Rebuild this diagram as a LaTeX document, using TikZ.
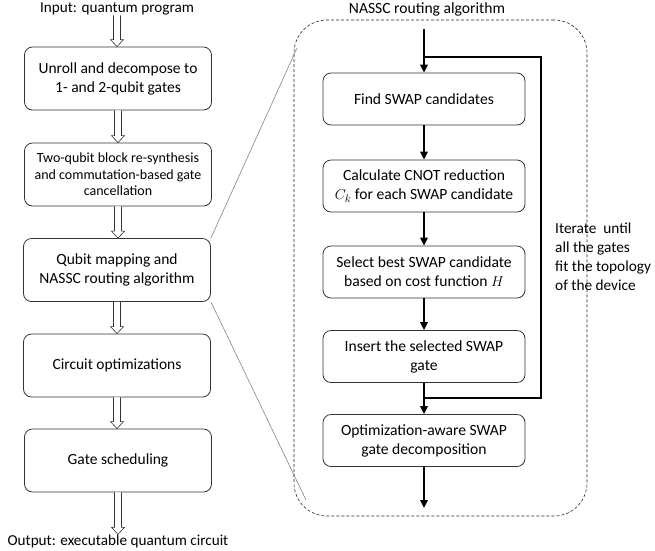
\documentclass[tikz,border=0pt]{standalone}
\usepackage{fontspec}
\setmainfont{Carlito}
\usetikzlibrary{arrows.meta,calc}
\newcommand{\holarrow}[2]{\draw[hollow] let \p1=(#1), \p2=(#2) in (\x1-3.5pt,\y1) -- (\x1-3.5pt,\y2+7pt) -- (\x1-6.5pt,\y2+7pt) -- (\x1,\y2) -- (\x1+6.5pt,\y2+7pt) -- (\x1+3.5pt,\y2+7pt) -- (\x1+3.5pt,\y1);}
\begin{document}
\begin{tikzpicture}[x=1pt,y=-1pt,
  lbox/.style={draw=black!80,line width=0.8pt,rounded corners=8pt,minimum width=187pt,minimum height=63pt,align=center,inner sep=0pt,font=\fontsize{15.5}{19}\selectfont},
  sbox/.style={lbox,font=\fontsize{14}{16.5}\selectfont},
  rbox/.style={draw=black!80,line width=0.8pt,rounded corners=8pt,minimum width=202pt,minimum height=52pt,align=center,inner sep=0pt,font=\fontsize{15.6}{19}\selectfont},
  lbl/.style={inner sep=0pt,font=\fontsize{15.2}{19}\selectfont},
  hollow/.style={draw=black!80,line width=0.6pt,fill=white},
  flow/.style={line width=1.8pt,-{Triangle[length=8pt,width=7.5pt]}},
  loopline/.style={line width=1.8pt},
  zoomline/.style={draw=black!55,line width=0.5pt},
  frame/.style={draw=black!85,dash pattern=on 3pt off 2pt,line width=0.6pt,rounded corners=33pt,minimum width=293pt,minimum height=496pt,inner sep=0pt}]
\useasboundingbox (0,0) rectangle (655,550);
% left column
\node[lbl] (in) at (117,9) {Input: quantum program};
\node[lbox] (b1) at (118,78.5) {Unroll and decompose to\\1- and 2-qubit gates};
\node[sbox] (b2) at (118,174.5) {Two-qubit block re-synthesis\\and commutation-based gate\\cancellation};
\node[lbox] (b3) at (117,270) {Qubit mapping and\\NASSC routing algorithm};
\node[lbox] (b4) at (117,365.5) {Circuit optimizations};
\node[lbox] (b5) at (118,460.5) {Gate scheduling};
\node[lbl] (out) at (118,541) {Output: executable quantum circuit};
\holarrow{in.south}{b1.north}
\holarrow{b1.south}{b2.north}
\holarrow{b2.south}{b3.north}
\holarrow{b3.south}{b4.north}
\holarrow{b4.south}{b5.north}
\holarrow{b5.south}{out.north}
% right frame
\node[frame] (fr) at (440.5,268) {};
\node[lbl,font=\fontsize{15.6}{19}\selectfont] (title) at (427,9) {NASSC routing algorithm};
\coordinate (zt) at (297,48);
\coordinate (zb) at (306,500);
\draw[zoomline] (b3.north east) -- (zt);
\draw[zoomline] (b3.south east) -- (zb);
\node[rbox] (r1) at (424,99) {Find SWAP candidates};
\node[rbox] (r2) at (424,186) {Calculate CNOT reduction\\$C_k$ for each SWAP candidate};
\node[rbox] (r3) at (424,272) {Select best SWAP candidate\\based on cost function $H$};
\node[rbox] (r4) at (424,356.5) {Insert the selected SWAP\\gate};
\node[rbox] (r5) at (424,440.5) {Optimization-aware SWAP\\gate decomposition};
\coordinate (st) at (424,29);
\coordinate (en) at (424,508);
\coordinate (j1) at (424,398);
\coordinate (c1) at (541,398);
\coordinate (c2) at (541,57);
\coordinate (j2) at (424,57);
\draw[flow] (st) -- (r1.north);
\draw[flow] (r1.south) -- (r2.north);
\draw[flow] (r2.south) -- (r3.north);
\draw[flow] (r3.south) -- (r4.north);
\draw[flow] (r4.south) -- (r5.north);
\draw[flow] (r5.south) -- (en);
\draw[loopline,line join=miter] (j1) -- (c1) -- (c2) -- (j2);
\node[lbl,anchor=west,align=left,font=\fontsize{15.3}{19}\selectfont] (it) at (555,257) {Iterate~ until\\all the gates\\fit the topology\\of the device};
\end{tikzpicture}
\end{document}
